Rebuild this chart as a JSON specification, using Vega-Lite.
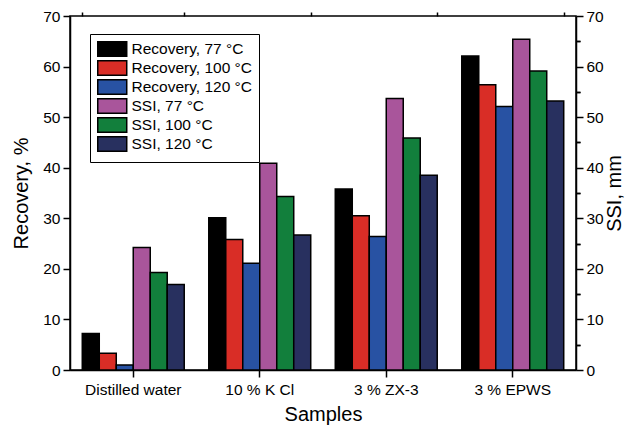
{
  "$schema": "https://vega.github.io/schema/vega-lite/v6.json",
  "autosize": {"type": "none"},
  "padding": {"left": 70, "top": 16, "right": 49, "bottom": 55},
  "width": 506,
  "height": 354,
  "background": "white",
  "config": {
    "font": "Liberation Sans",
    "view": {"stroke": "black", "strokeWidth": 1.5},
    "axis": {
      "labelFont": "Liberation Sans", "titleFont": "Liberation Sans",
      "labelFontSize": 15.5, "titleFontSize": 20, "labelColor": "black", "titleColor": "black",
      "titleFontWeight": "normal", "domainColor": "black", "tickColor": "black",
      "domainWidth": 1.5, "tickWidth": 1.5, "grid": false
    },
    "legend": {"labelFont": "Liberation Sans"}
  },
  "data": {"values": [
    {"sample": "Distilled water", "series": "Recovery, 77 °C", "value": 7.2},
    {"sample": "Distilled water", "series": "Recovery, 100 °C", "value": 3.3},
    {"sample": "Distilled water", "series": "Recovery, 120 °C", "value": 1.0},
    {"sample": "Distilled water", "series": "SSI, 77 °C", "value": 24.2},
    {"sample": "Distilled water", "series": "SSI, 100 °C", "value": 19.3},
    {"sample": "Distilled water", "series": "SSI, 120 °C", "value": 16.9},
    {"sample": "10 % K Cl", "series": "Recovery, 77 °C", "value": 30.1},
    {"sample": "10 % K Cl", "series": "Recovery, 100 °C", "value": 25.8},
    {"sample": "10 % K Cl", "series": "Recovery, 120 °C", "value": 21.1},
    {"sample": "10 % K Cl", "series": "SSI, 77 °C", "value": 40.9},
    {"sample": "10 % K Cl", "series": "SSI, 100 °C", "value": 34.3},
    {"sample": "10 % K Cl", "series": "SSI, 120 °C", "value": 26.7},
    {"sample": "3 % ZX-3", "series": "Recovery, 77 °C", "value": 35.8},
    {"sample": "3 % ZX-3", "series": "Recovery, 100 °C", "value": 30.5},
    {"sample": "3 % ZX-3", "series": "Recovery, 120 °C", "value": 26.4},
    {"sample": "3 % ZX-3", "series": "SSI, 77 °C", "value": 53.7},
    {"sample": "3 % ZX-3", "series": "SSI, 100 °C", "value": 45.9},
    {"sample": "3 % ZX-3", "series": "SSI, 120 °C", "value": 38.5},
    {"sample": "3 % EPWS", "series": "Recovery, 77 °C", "value": 62.1},
    {"sample": "3 % EPWS", "series": "Recovery, 100 °C", "value": 56.4},
    {"sample": "3 % EPWS", "series": "Recovery, 120 °C", "value": 52.1},
    {"sample": "3 % EPWS", "series": "SSI, 77 °C", "value": 65.4},
    {"sample": "3 % EPWS", "series": "SSI, 100 °C", "value": 59.1},
    {"sample": "3 % EPWS", "series": "SSI, 120 °C", "value": 53.2}
  ]},
  "resolve": {"scale": {"x": "shared", "y": "shared"}, "axis": {"x": "independent", "y": "independent"}},
  "layer": [
    {
      "mark": {"type": "bar", "stroke": "black", "strokeWidth": 1.5},
      "encoding": {
        "x": {"field": "sample", "type": "nominal", "sort": ["Distilled water", "10 % K Cl", "3 % ZX-3", "3 % EPWS"],
              "scale": {"paddingInner": 0.194, "paddingOuter": 0.097},
              "axis": {"title": "Samples", "labelAngle": 0, "tickSize": 7, "labelPadding": 5, "titlePadding": 7}},
        "xOffset": {"field": "series", "type": "nominal",
                    "sort": ["Recovery, 77 °C", "Recovery, 100 °C", "Recovery, 120 °C", "SSI, 77 °C", "SSI, 100 °C", "SSI, 120 °C"],
                    "scale": {"paddingInner": 0, "paddingOuter": 0}},
        "y": {"field": "value", "type": "quantitative", "scale": {"domain": [0, 70], "nice": false},
              "axis": {"title": "Recovery, %", "values": [0, 10, 20, 30, 40, 50, 60, 70], "tickSize": 7, "labelPadding": 3, "titlePadding": 11}},
        "color": {"field": "series", "type": "nominal",
                  "sort": ["Recovery, 77 °C", "Recovery, 100 °C", "Recovery, 120 °C", "SSI, 77 °C", "SSI, 100 °C", "SSI, 120 °C"],
                  "scale": {"domain": ["Recovery, 77 °C", "Recovery, 100 °C", "Recovery, 120 °C", "SSI, 77 °C", "SSI, 100 °C", "SSI, 120 °C"],
                            "range": ["#000000", "#d92d26", "#2852a3", "#a9559b", "#127f3c", "#28305f"]},
                  "legend": {"title": null, "orient": "none", "legendX": 20, "legendY": 18,
                             "strokeColor": "black", "padding": 7, "fillColor": "white",
                             "symbolType": "M-1,-1H3V1H-1Z", "symbolSize": 210, "symbolStrokeColor": "black", "symbolStrokeWidth": 1.5,
                             "symbolOpacity": 1, "labelFontSize": 15.5, "labelColor": "black", "labelOffset": 18.5, "rowPadding": -9.5}}
      }
    },
    {
      "mark": {"type": "point", "opacity": 0},
      "encoding": {
        "x": {"field": "sample", "type": "nominal", "sort": ["Distilled water", "10 % K Cl", "3 % ZX-3", "3 % EPWS"],
              "axis": {"title": null, "labels": false, "tickBand": "extent", "tickSize": 4, "domain": false}},
        "y": {"field": "value", "type": "quantitative",
              "axis": {"title": null, "labels": false, "values": [5, 15, 25, 35, 45, 55, 65], "tickSize": 4, "domain": false}}
      }
    },
    {
      "mark": {"type": "point", "opacity": 0},
      "encoding": {
        "x": {"field": "sample", "type": "nominal", "sort": ["Distilled water", "10 % K Cl", "3 % ZX-3", "3 % EPWS"], "axis": null},
        "y": {"field": "value", "type": "quantitative",
              "axis": {"title": "SSI, mm", "orient": "right", "titleAngle": 270, "titleBaseline": "top", "values": [0, 10, 20, 30, 40, 50, 60, 70], "tickSize": 7, "labelPadding": 3, "titlePadding": 1}}
      }
    },
    {
      "mark": {"type": "point", "opacity": 0},
      "encoding": {
        "x": {"field": "sample", "type": "nominal", "sort": ["Distilled water", "10 % K Cl", "3 % ZX-3", "3 % EPWS"], "axis": null},
        "y": {"field": "value", "type": "quantitative",
              "axis": {"title": null, "orient": "right", "labels": false, "values": [5, 15, 25, 35, 45, 55, 65], "tickSize": 4, "domain": false}}
      }
    }
  ]
}
